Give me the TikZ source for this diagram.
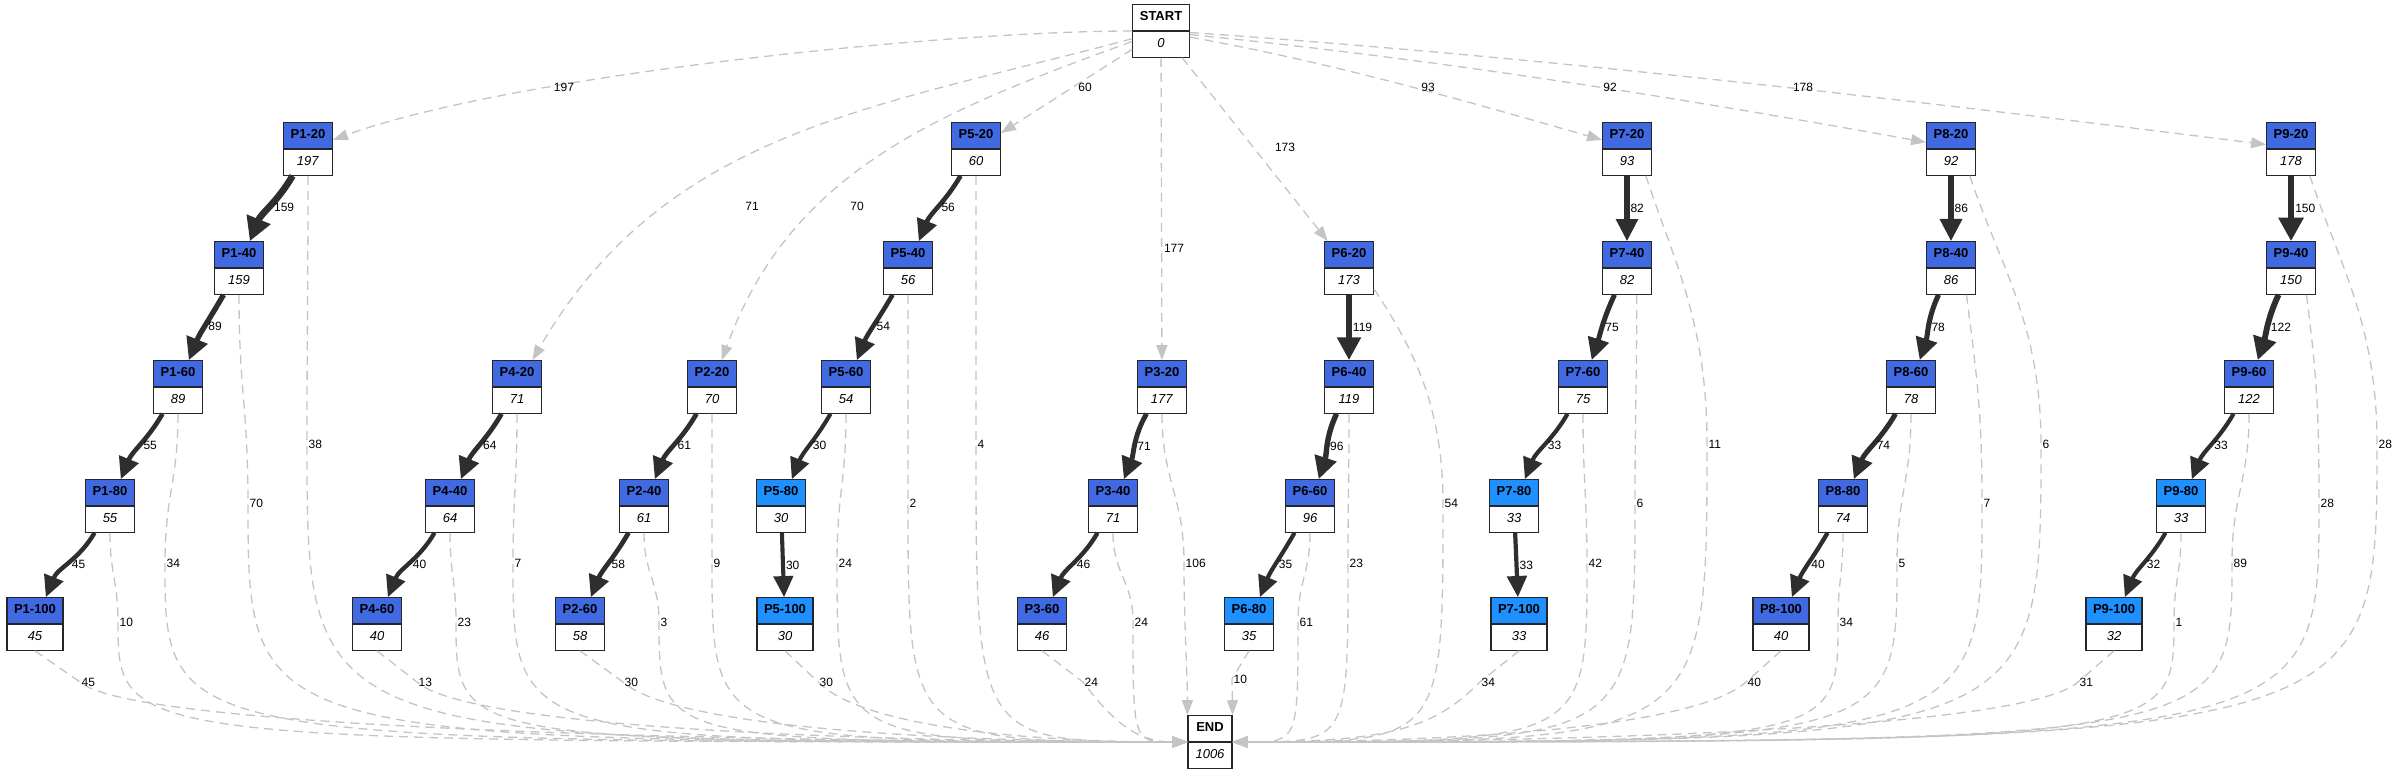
\documentclass[tikz,border=0pt]{standalone}
\usepackage{fontspec}
\setmainfont{Liberation Sans}
\usetikzlibrary{shapes.multipart,arrows.meta,positioning}
\definecolor{royalblue}{HTML}{4169E1}
\definecolor{dodgerblue}{HTML}{1E90FF}
\definecolor{flowgray}{HTML}{2E2E2E}
\definecolor{dashgray}{HTML}{C4C4C4}
\newcommand{\actlabel}[2]{\rule[-3.5pt]{0pt}{13pt}\textbf{#1}\nodepart{second}\rule[-3.5pt]{0pt}{13pt}\textit{#2}}

\begin{document}
\begin{tikzpicture}[x=1pt, y=1pt]
	\tikzstyle{every node} = [font=\fontsize{13}{15}\selectfont]
	\tikzstyle{act} = [rectangle split, rectangle split parts=2, draw=black!85, line width=1.2pt, inner xsep=7pt, inner ysep=6pt, rectangle split part fill={royalblue,white}]
	\tikzstyle{actb} = [act, rectangle split part fill={dodgerblue,white}]
	\tikzstyle{term} = [act, rectangle split part fill={white,white}, minimum width=44pt]
	\tikzstyle{flow} = [draw=flowgray, -{Triangle[length=17pt 1, width=11pt 2]}]
	\tikzstyle{skip} = [draw=dashgray, line width=1.3pt, dash pattern=on 9pt off 6pt, -{Triangle[length=15pt, width=11pt]}]
	\tikzstyle{num} = [font=\fontsize{12}{14}\selectfont, inner sep=1pt]
\useasboundingbox (0,0) rectangle (2400,774);

\node[term] (start) at (1161,743) {\actlabel{START}{0}};
\node[term] (stop) at (1210,32) {\actlabel{END}{1006}};

\node[act] (p1-20) at (308,625) {\actlabel{P1-20}{197}};
\node[act] (p1-40) at (239,506) {\actlabel{P1-40}{159}};
\node[act] (p1-60) at (178,387) {\actlabel{P1-60}{89}};
\node[act] (p1-80) at (110,268) {\actlabel{P1-80}{55}};
\node[act] (p1-100) at (35,150) {\actlabel{P1-100}{45}};

\node[act] (p4-20) at (517,387) {\actlabel{P4-20}{71}};
\node[act] (p4-40) at (450,268) {\actlabel{P4-40}{64}};
\node[act] (p4-60) at (377,150) {\actlabel{P4-60}{40}};

\node[act] (p2-20) at (712,387) {\actlabel{P2-20}{70}};
\node[act] (p2-40) at (644,268) {\actlabel{P2-40}{61}};
\node[act] (p2-60) at (580,150) {\actlabel{P2-60}{58}};

\node[act] (p5-20) at (976,625) {\actlabel{P5-20}{60}};
\node[act] (p5-40) at (908,506) {\actlabel{P5-40}{56}};
\node[act] (p5-60) at (846,387) {\actlabel{P5-60}{54}};
\node[actb] (p5-80) at (781,268) {\actlabel{P5-80}{30}};
\node[actb] (p5-100) at (785,150) {\actlabel{P5-100}{30}};

\node[act] (p3-20) at (1162,387) {\actlabel{P3-20}{177}};
\node[act] (p3-40) at (1113,268) {\actlabel{P3-40}{71}};
\node[act] (p3-60) at (1042,150) {\actlabel{P3-60}{46}};

\node[act] (p6-20) at (1349,506) {\actlabel{P6-20}{173}};
\node[act] (p6-40) at (1349,387) {\actlabel{P6-40}{119}};
\node[act] (p6-60) at (1310,268) {\actlabel{P6-60}{96}};
\node[actb] (p6-80) at (1249,150) {\actlabel{P6-80}{35}};

\node[act] (p7-20) at (1627,625) {\actlabel{P7-20}{93}};
\node[act] (p7-40) at (1627,506) {\actlabel{P7-40}{82}};
\node[act] (p7-60) at (1583,387) {\actlabel{P7-60}{75}};
\node[actb] (p7-80) at (1514,268) {\actlabel{P7-80}{33}};
\node[actb] (p7-100) at (1519,150) {\actlabel{P7-100}{33}};

\node[act] (p8-20) at (1951,625) {\actlabel{P8-20}{92}};
\node[act] (p8-40) at (1951,506) {\actlabel{P8-40}{86}};
\node[act] (p8-60) at (1911,387) {\actlabel{P8-60}{78}};
\node[act] (p8-80) at (1843,268) {\actlabel{P8-80}{74}};
\node[act] (p8-100) at (1781,150) {\actlabel{P8-100}{40}};

\node[act] (p9-20) at (2291,625) {\actlabel{P9-20}{178}};
\node[act] (p9-40) at (2291,506) {\actlabel{P9-40}{150}};
\node[act] (p9-60) at (2249,387) {\actlabel{P9-60}{122}};
\node[actb] (p9-80) at (2181,268) {\actlabel{P9-80}{33}};
\node[actb] (p9-100) at (2114,150) {\actlabel{P9-100}{32}};

	% start edges
	\path[skip] (start) to[out=180, in=20, looseness=0.6] (p1-20);
	\path[skip] (start) to[out=195, in=60] (p4-20);
	\path[skip] (start) to[out=200, in=70] (p2-20);
	\path[skip] (start) -- (p5-20);
	\path[skip] (start) -- (p3-20);
	\path[skip] (start) -- (p6-20);
	\path[skip] (start.-12) .. controls +(140,-25) and +(-140,40) .. (p7-20.160);
	\path[skip] (start.-7) .. controls +(250,-25) and +(-250,45) .. (p8-20.165);
	\path[skip] (start.-3) .. controls +(360,-25) and +(-360,45) .. (p9-20.170);
	\node[num] at (564,687) {197};
	\node[num] at (752,568) {71};
	\node[num] at (857,568) {70};
	\node[num] at (1085,687) {60};
	\node[num] at (1174,526) {177};
	\node[num] at (1285,627) {173};
	\node[num] at (1428,687) {93};
	\node[num] at (1610,687) {92};
	\node[num] at (1803,687) {178};

	% flows
	\path[flow, line width=6.7pt] (p1-20) to[out=-120, in=68] node[num, right] {159} (p1-40);
	\path[flow, line width=5.3pt] (p1-40) to[out=-120, in=68] node[num, right] {89} (p1-60);
	\path[flow, line width=4.6pt] (p1-60) to[out=-120, in=68] node[num, right] {55} (p1-80);
	\path[flow, line width=4.4pt] (p1-80) to[out=-120, in=68] node[num, right] {45} (p1-100);
	\path[flow, line width=4.8pt] (p4-20) to[out=-120, in=68] node[num, right] {64} (p4-40);
	\path[flow, line width=4.3pt] (p4-40) to[out=-120, in=68] node[num, right] {40} (p4-60);
	\path[flow, line width=4.7pt] (p2-20) to[out=-120, in=68] node[num, right] {61} (p2-40);
	\path[flow, line width=4.7pt] (p2-40) to[out=-120, in=68] node[num, right] {58} (p2-60);
	\path[flow, line width=4.6pt] (p5-20) to[out=-120, in=68] node[num, right] {56} (p5-40);
	\path[flow, line width=4.6pt] (p5-40) to[out=-120, in=68] node[num, right] {54} (p5-60);
	\path[flow, line width=4.1pt] (p5-60) to[out=-120, in=68] node[num, right] {30} (p5-80);
	\path[flow, line width=4.1pt] (p5-80) -- node[num, right] {30} (p5-100);
	\path[flow, line width=4.9pt] (p3-20) to[out=-120, in=68] node[num, right] {71} (p3-40);
	\path[flow, line width=4.4pt] (p3-40) to[out=-120, in=68] node[num, right] {46} (p3-60);
	\path[flow, line width=5.9pt] (p6-20) -- node[num, right] {119} (p6-40);
	\path[flow, line width=5.4pt] (p6-40) to[out=-115, in=72] node[num, right] {96} (p6-60);
	\path[flow, line width=4.2pt] (p6-60) to[out=-120, in=68] node[num, right] {35} (p6-80);
	\path[flow, line width=5.1pt] (p7-20) -- node[num, right] {82} (p7-40);
	\path[flow, line width=5.0pt] (p7-40) to[out=-115, in=72] node[num, right] {75} (p7-60);
	\path[flow, line width=4.2pt] (p7-60) to[out=-120, in=68] node[num, right] {33} (p7-80);
	\path[flow, line width=4.2pt] (p7-80) -- node[num, right] {33} (p7-100);
	\path[flow, line width=5.2pt] (p8-20) -- node[num, right] {86} (p8-40);
	\path[flow, line width=5.1pt] (p8-40) to[out=-115, in=72] node[num, right] {78} (p8-60);
	\path[flow, line width=5.0pt] (p8-60) to[out=-120, in=68] node[num, right] {74} (p8-80);
	\path[flow, line width=4.3pt] (p8-80) to[out=-120, in=68] node[num, right] {40} (p8-100);
	\path[flow, line width=6.5pt] (p9-20) -- node[num, right] {150} (p9-40);
	\path[flow, line width=5.9pt] (p9-40) to[out=-115, in=72] node[num, right] {122} (p9-60);
	\path[flow, line width=4.2pt] (p9-60) to[out=-120, in=68] node[num, right] {33} (p9-80);
	\path[flow, line width=4.1pt] (p9-80) to[out=-120, in=68] node[num, right] {32} (p9-100);

	% end edges
	\path[skip] (p1-20.south) .. controls +(0,-120) and +(0,120) .. (307,330) node[num, right] {38} .. controls (307,32) .. (stop.west);
	\path[skip] (p1-40.south) .. controls +(0,-95) and +(0,95) .. (248,271) node[num, right] {70} .. controls (248,32) .. (stop.west);
	\path[skip] (p1-60.south) .. controls +(0,-68) and +(0,68) .. (165,211) node[num, right] {34} .. controls (165,32) .. (stop.west);
	\path[skip] (p1-80.south) .. controls +(0,-41) and +(0,41) .. (118,152) node[num, right] {10} .. controls (118,32) .. (stop.west);
	\path[skip] (p1-100.south) -- (80,92) node[num, right] {45} .. controls +(50,-45) and +(-500,0) .. (stop.west);
	\path[skip] (p4-20.south) .. controls +(0,-68) and +(0,68) .. (513,211) node[num, right] {7} .. controls (513,32) .. (stop.west);
	\path[skip] (p4-40.south) .. controls +(0,-41) and +(0,41) .. (456,152) node[num, right] {23} .. controls (456,32) .. (stop.west);
	\path[skip] (p4-60.south) -- (417,92) node[num, right] {13} .. controls +(50,-45) and +(-340,0) .. (stop.west);
	\path[skip] (p2-20.south) .. controls +(0,-68) and +(0,68) .. (712,211) node[num, right] {9} .. controls (712,32) .. (stop.west);
	\path[skip] (p2-40.south) .. controls +(0,-41) and +(0,41) .. (659,152) node[num, right] {3} .. controls (659,32) .. (stop.west);
	\path[skip] (p2-60.south) -- (623,92) node[num, right] {30} .. controls +(50,-45) and +(-250,0) .. (stop.west);
	\path[skip] (p5-20.south) .. controls +(0,-120) and +(0,120) .. (976,330) node[num, right] {4} .. controls (976,32) .. (stop.west);
	\path[skip] (p5-40.south) .. controls +(0,-95) and +(0,95) .. (908,271) node[num, right] {2} .. controls (908,32) .. (stop.west);
	\path[skip] (p5-60.south) .. controls +(0,-68) and +(0,68) .. (837,211) node[num, right] {24} .. controls (837,32) .. (stop.west);
	\path[skip] (p5-100.south) -- (818,92) node[num, right] {30} .. controls +(45,-45) and +(-160,0) .. (stop.west);
	\path[skip] (p3-20.south) .. controls +(0,-68) and +(0,68) .. (1184,211) node[num, right] {106} .. controls +(0,-60) and +(0,40) .. (stop.north west);
	\path[skip] (p3-40.south) .. controls +(0,-41) and +(0,41) .. (1133,152) node[num, right] {24} .. controls (1133,32) .. (stop.west);
	\path[skip] (p3-60.south) -- (1083,92) node[num, right] {24} .. controls +(30,-40) and +(-50,0) .. (stop.west);
	\path[skip] (p6-20.-40) .. controls +(40,-60) and +(0,95) .. (1443,271) node[num, right] {54} .. controls (1443,32) .. (stop.east);
	\path[skip] (p6-40.south) .. controls +(0,-68) and +(0,68) .. (1348,211) node[num, right] {23} .. controls (1348,32) .. (stop.east);
	\path[skip] (p6-60.south) .. controls +(0,-41) and +(0,41) .. (1298,152) node[num, right] {61} .. controls (1298,32) .. (stop.east);
	\path[skip] (p6-80.south) -- (1232,95) node[num, right] {10} -- (stop.north east);
	\path[skip] (p7-20.-55) .. controls +(30,-90) and +(0,120) .. (1707,330) node[num, right] {11} .. controls (1707,32) .. (stop.east);
	\path[skip] (p7-40.-70) .. controls +(0,-95) and +(0,95) .. (1635,271) node[num, right] {6} .. controls (1635,32) .. (stop.east);
	\path[skip] (p7-60.south) .. controls +(0,-68) and +(0,68) .. (1587,211) node[num, right] {42} .. controls (1587,32) .. (stop.east);
	\path[skip] (p7-100.south) -- (1480,92) node[num, right] {34} .. controls +(-45,-45) and +(160,0) .. (stop.east);
	\path[skip] (p8-20.-55) .. controls +(30,-90) and +(0,120) .. (2041,330) node[num, right] {6} .. controls (2041,32) .. (stop.east);
	\path[skip] (p8-40.-60) .. controls +(10,-80) and +(0,95) .. (1982,271) node[num, right] {7} .. controls (1982,32) .. (stop.east);
	\path[skip] (p8-60.south) .. controls +(0,-68) and +(0,68) .. (1897,211) node[num, right] {5} .. controls (1897,32) .. (stop.east);
	\path[skip] (p8-80.south) .. controls +(0,-41) and +(0,41) .. (1838,152) node[num, right] {34} .. controls (1838,32) .. (stop.east);
	\path[skip] (p8-100.south) -- (1746,92) node[num, right] {40} .. controls +(-50,-45) and +(230,0) .. (stop.east);
	\path[skip] (p9-20.-55) .. controls +(30,-90) and +(0,120) .. (2377,330) node[num, right] {28} .. controls (2377,32) .. (stop.east);
	\path[skip] (p9-40.-60) .. controls +(10,-80) and +(0,95) .. (2319,271) node[num, right] {28} .. controls (2319,32) .. (stop.east);
	\path[skip] (p9-60.south) .. controls +(0,-68) and +(0,68) .. (2232,211) node[num, right] {89} .. controls (2232,32) .. (stop.east);
	\path[skip] (p9-80.south) .. controls +(0,-41) and +(0,41) .. (2174,152) node[num, right] {1} .. controls (2174,32) .. (stop.east);
	\path[skip] (p9-100.south) -- (2078,92) node[num, right] {31} .. controls +(-50,-45) and +(380,0) .. (stop.east);
\end{tikzpicture}
\end{document}
